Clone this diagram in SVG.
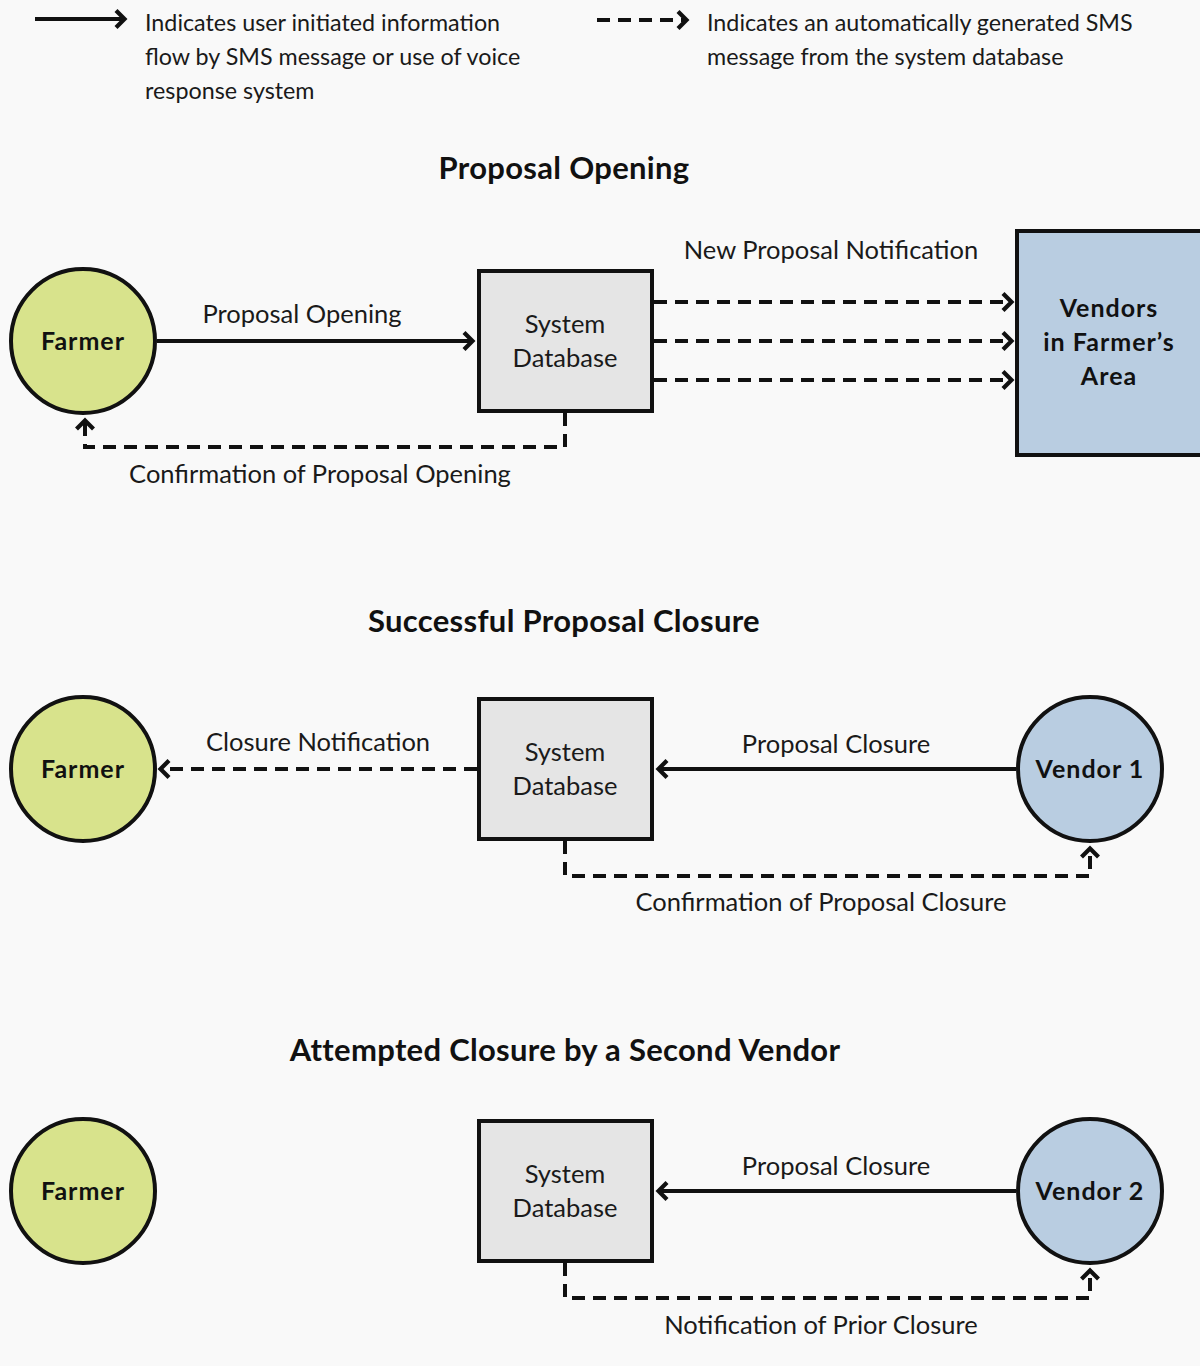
<svg xmlns="http://www.w3.org/2000/svg" width="1200" height="1366" viewBox="0 0 1200 1366">
  <style>
    .leg { font-family: Lato, "Open Sans", "Liberation Sans", sans-serif; font-size: 23.3px; fill: #1a1a1a; }
    .lbl { font-family: Lato, "Open Sans", "Liberation Sans", sans-serif; font-size: 25.5px; fill: #1a1a1a; text-anchor: middle; }
    .ttl { font-family: Lato, "Open Sans", "Liberation Sans", sans-serif; font-size: 31px; font-weight: bold; fill: #111; text-anchor: middle; letter-spacing: 0.3px; }
    .nd { font-family: Lato, "Open Sans", "Liberation Sans", sans-serif; font-size: 25px; font-weight: bold; fill: #111; text-anchor: middle; letter-spacing: 1px; }
    .db { font-family: Lato, "Open Sans", "Liberation Sans", sans-serif; font-size: 25.5px; fill: #1a1a1a; text-anchor: middle; }
    .farmer { fill: #d8e38c; stroke: #111; stroke-width: 4; }
    .vendor { fill: #b9cde1; stroke: #111; stroke-width: 4; }
    .box { fill: #e5e5e5; stroke: #111; stroke-width: 4; }
    .solid { fill: none; stroke: #111; stroke-width: 4; marker-end: url(#chev); }
    .dash { fill: none; stroke: #111; stroke-width: 4; stroke-dasharray: 13 8; marker-end: url(#chev); }
  </style>
  <defs>
    <marker id="chev" markerUnits="userSpaceOnUse" markerWidth="20" markerHeight="24" refX="11" refY="10" orient="auto" viewBox="0 0 20 24">
      <path d="M3,1.5 L11.5,10 L3,18.5" fill="none" stroke="#111" stroke-width="4.2" stroke-linecap="butt" stroke-linejoin="miter"/>
    </marker>
  </defs>
  <rect x="0" y="0" width="1200" height="1366" fill="#f9f9f9"/>

  <g id="legend">
    <line x1="35" y1="19" x2="124" y2="19" class="solid"/>
    <text class="leg" x="145" y="31">Indicates user initiated information</text>
    <text class="leg" x="145" y="65">flow by SMS message or use of voice</text>
    <text class="leg" x="145" y="99">response system</text>
    <line x1="597" y1="20" x2="686" y2="20" class="dash"/>
    <text class="leg" x="707" y="31">Indicates an automatically generated SMS</text>
    <text class="leg" x="707" y="65">message from the system database</text>
  </g>

  <g id="titles">
    <text class="ttl" x="564" y="179">Proposal Opening</text>
    <text class="ttl" x="564" y="632">Successful Proposal Closure</text>
    <text class="ttl" x="565" y="1061">Attempted Closure by a Second Vendor</text>
  </g>

  <!-- Section 1 -->
  <g id="farmer1"><circle class="farmer" cx="83" cy="341" r="72"/><text class="nd" x="83" y="350">Farmer</text></g>
  <g id="db1"><rect class="box" x="479" y="271" width="173" height="140"/><text class="db" x="565" y="333">System</text><text class="db" x="565" y="367">Database</text></g>
  <g id="vendors"><rect class="vendor" x="1017" y="231" width="190" height="224"/>
    <text class="nd" x="1109" y="317">Vendors</text><text class="nd" x="1109" y="351">in Farmer’s</text><text class="nd" x="1109" y="385">Area</text></g>

  <!-- Section 2 -->
  <g id="farmer2"><circle class="farmer" cx="83" cy="769" r="72"/><text class="nd" x="83" y="778">Farmer</text></g>
  <g id="db2"><rect class="box" x="479" y="699" width="173" height="140"/><text class="db" x="565" y="761">System</text><text class="db" x="565" y="795">Database</text></g>
  <g id="vendor1"><circle class="vendor" cx="1090" cy="769" r="72"/><text class="nd" x="1090" y="778">Vendor 1</text></g>

  <!-- Section 3 -->
  <g id="farmer3"><circle class="farmer" cx="83" cy="1191" r="72"/><text class="nd" x="83" y="1200">Farmer</text></g>
  <g id="db3"><rect class="box" x="479" y="1121" width="173" height="140"/><text class="db" x="565" y="1183">System</text><text class="db" x="565" y="1217">Database</text></g>
  <g id="vendor2"><circle class="vendor" cx="1090" cy="1191" r="72"/><text class="nd" x="1090" y="1200">Vendor 2</text></g>

  <g id="connectors">
    <line class="solid" x1="157" y1="341" x2="472" y2="341"/>
    <line class="dash" x1="654" y1="302" x2="1011" y2="302"/>
    <line class="dash" x1="654" y1="341" x2="1011" y2="341"/>
    <line class="dash" x1="654" y1="380" x2="1011" y2="380"/>
    <polyline class="dash" points="565,413 565,447 85,447 85,421"/>

    <line class="dash" x1="477" y1="769" x2="161" y2="769"/>
    <line class="solid" x1="1016" y1="769" x2="659" y2="769"/>
    <polyline class="dash" points="565,841 565,876 1090,876 1090,849"/>

    <line class="solid" x1="1016" y1="1191" x2="659" y2="1191"/>
    <polyline class="dash" points="565,1263 565,1298 1090,1298 1090,1271"/>
  </g>

  <g id="labels">
    <text class="lbl" x="302" y="323">Proposal Opening</text>
    <text class="lbl" x="831" y="259">New Proposal Notification</text>
    <text class="lbl" x="320" y="483">Confirmation of Proposal Opening</text>
    <text class="lbl" x="318" y="751">Closure Notification</text>
    <text class="lbl" x="836" y="753">Proposal Closure</text>
    <text class="lbl" x="821" y="911">Confirmation of Proposal Closure</text>
    <text class="lbl" x="836" y="1175">Proposal Closure</text>
    <text class="lbl" x="821" y="1334">Notification of Prior Closure</text>
  </g>
</svg>
